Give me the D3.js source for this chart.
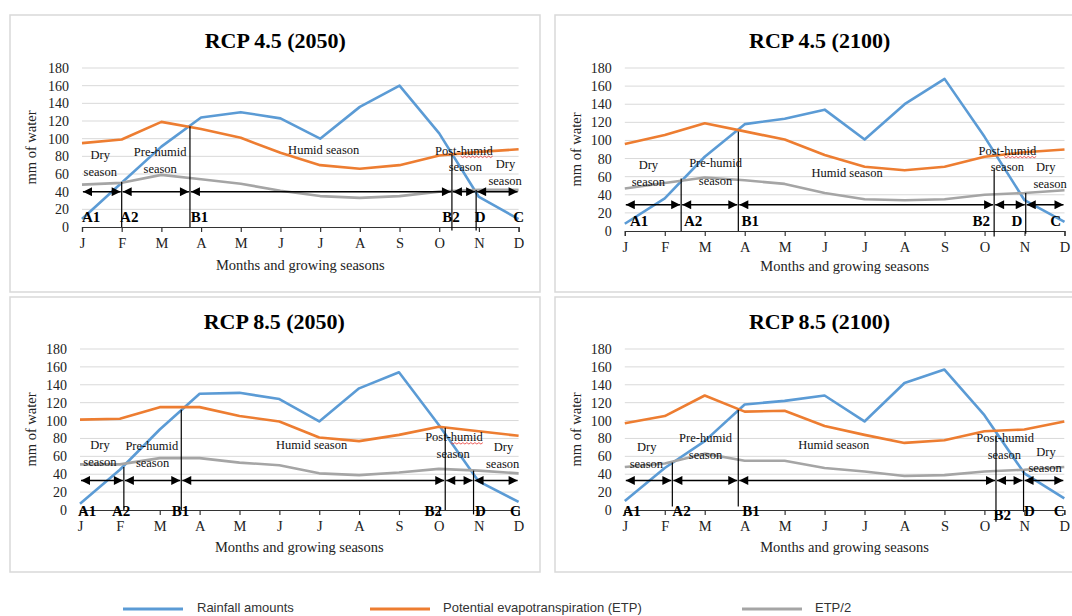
<!DOCTYPE html>
<html><head><meta charset="utf-8">
<script src="https://cdn.jsdelivr.net/npm/d3@7"></script>
<style>body{margin:0;background:#fff} svg{display:block}</style>
</head><body><svg id="c" width="1072" height="616"></svg>
<script>
// ---------- data ----------
const months = ["J","F","M","A","M","J","J","A","S","O","N","D"];
const yTicks = [0,20,40,60,80,100,120,140,160,180];
const seriesNames = ["Rainfall amounts","Potential evapotranspiration (ETP)","ETP/2"];
const panelTitles = ["RCP 4.5 (2050)","RCP 4.5 (2100)","RCP 8.5 (2050)","RCP 8.5 (2100)"];

const rain45_2050 = [9,50,91,124,130,123,100,136,160,106,34,9];
const etp45_2050  = [95,99,119,111,101,84,70,66,70,81,85,88];
const half45_2050 = [48,50,59,54,49,41,35,33,35,40,42,42];

const rain45_2100 = [8,36,82,118,124,134,101,140,168,104,34,10];
const etp45_2100  = [96,106,119,110,101,84,71,67,71,82,87,90];
const half45_2100 = [47,53,59,56,52,42,35,34,35,40,42,45];

const rain85_2050 = [7,45,90,130,131,124,99,136,154,95,32,9];
const etp85_2050  = [101,102,115,115,105,99,81,77,84,93,88,83];
const half85_2050 = [51,51,58,58,53,50,41,39,42,46,44,41];

const rain85_2100 = [10,47,77,118,122,128,99,142,157,106,41,13];
const etp85_2100  = [97,105,128,110,111,94,84,75,78,88,90,99];
const half85_2100 = [48,52,63,55,55,47,43,38,39,43,45,48];

// season boundaries (month index): A2, B1, B2, D
const bounds45_2050 = [1.0, 2.72, 9.32, 9.93];
const bounds45_2100 = [1.41, 2.84, 9.24, 10.03];
const bounds85_2050 = [1.10, 2.54, 9.16, 9.87];
const bounds85_2100 = [1.19, 2.84, 9.29, 9.98];
// top / bottom of each boundary line (mm)
const boundTops45_2050 = [51, 114, 82, 42];
const boundTops45_2100 = [58, 110, 68, 42];
const boundTops85_2050 = [48, 112, 92, 44];
const boundTops85_2100 = [53, 112, 82, 44];
const boundBots45_2050 = [0, 0, -4, -4];
const boundBots45_2100 = [0, 0, -6, -3];
const boundBots85_2050 = [0, 0, 0, -5];
const boundBots85_2100 = [4, 4, -13, -2];
// level of the season arrows (mm)
const arrowLevels = [40, 29, 33, 33];

// stage letters and their month positions
const stageLabels = ["A1","A2","B1","B2","D","C"];
const stageX45_2050 = [0.23, 1.19, 2.96, 9.30, 10.03, 11.0];
const stageX45_2100 = [0.36, 1.71, 3.14, 8.92, 9.81, 10.78];
const stageX85_2050 = [0.18, 1.03, 2.52, 8.86, 10.04, 10.92];
const stageX85_2100 = [0.17, 1.42, 3.16, 9.45, 10.13, 10.87];

// season captions with [month, mm] anchors
const seasonTexts = ["Dry","season","Pre-humid","season","Humid season","Post-humid","season","Dry","season"];
const seasonPos45_2050 = [[0.46,82],[0.46,63],[1.97,85],[1.97,66],[6.09,87.5],[9.62,87],[9.66,68],[10.67,72],[10.66,53]];
const seasonPos45_2100 = [[0.59,73],[0.59,55],[2.27,76],[2.27,56],[5.56,64],[9.57,89],[9.57,71],[10.53,71],[10.64,52]];
const seasonPos85_2050 = [[0.5,73],[0.5,54],[1.8,72],[1.82,53],[5.81,73],[9.38,82],[9.36,63],[10.62,71],[10.6,52]];
const seasonPos85_2100 = [[0.55,71],[0.54,52],[2.02,81],[2.02,62],[5.23,73],[9.52,81],[9.5,62],[10.54,65],[10.52,47]];

const colors = ["#5b9bd5","#ed7d31","#a5a5a5"];

// ---------- layout ----------
const panels = [
  {title:panelTitles[0], rain:rain45_2050, etp:etp45_2050, half:half45_2050, bounds:bounds45_2050, tops:boundTops45_2050, bots:boundBots45_2050, arrow:arrowLevels[0], stageX:stageX45_2050, seasonPos:seasonPos45_2050, spell:true,
   box:[10,15,540,292], x0:82, x1:518.6, y0:227, y180:68, titleY:48, xTitleY:270, labOff:-5, b2Off:0},
  {title:panelTitles[1], rain:rain45_2100, etp:etp45_2100, half:half45_2100, bounds:bounds45_2100, tops:boundTops45_2100, bots:boundBots45_2100, arrow:arrowLevels[1], stageX:stageX45_2100, seasonPos:seasonPos45_2100, spell:true,
   box:[555,15,1080,292], x0:624.8, x1:1064.5, y0:231, y180:68, titleY:48, xTitleY:271, labOff:-5, b2Off:0},
  {title:panelTitles[2], rain:rain85_2050, etp:etp85_2050, half:half85_2050, bounds:bounds85_2050, tops:boundTops85_2050, bots:boundBots85_2050, arrow:arrowLevels[2], stageX:stageX85_2050, seasonPos:seasonPos85_2050, spell:true,
   box:[10,297,540,572], x0:80, x1:518.6, y0:510, y180:349, titleY:329, xTitleY:552, labOff:6, b2Off:0},
  {title:panelTitles[3], rain:rain85_2100, etp:etp85_2100, half:half85_2100, bounds:bounds85_2100, tops:boundTops85_2100, bots:boundBots85_2100, arrow:arrowLevels[3], stageX:stageX85_2100, seasonPos:seasonPos85_2100, spell:false,
   box:[555,297,1080,572], x0:624.8, x1:1064.3, y0:510, y180:349, titleY:329, xTitleY:552, labOff:6, b2Off:4}
];

const serif = "'Liberation Serif','Times New Roman',serif";
const svg = d3.select("#c");
svg.append("rect").attr("width",1072).attr("height",616).attr("fill","#fff");

const defs = svg.append("defs");
defs.append("marker").attr("id","ah").attr("viewBox","0 0 10 10")
  .attr("refX",10).attr("refY",5).attr("markerWidth",10).attr("markerHeight",9)
  .attr("markerUnits","userSpaceOnUse").attr("orient","auto-start-reverse")
  .append("path").attr("d","M0,0L10,5L0,10z").attr("fill","#000");

panels.forEach(p => {
  const g = svg.append("g");
  const [bx0,by0,bx1,by1] = p.box;
  g.append("rect").attr("x",bx0).attr("y",by0).attr("width",bx1-bx0).attr("height",by1-by0)
    .attr("fill","#fff").attr("stroke","#d9d9d9").attr("stroke-width",1.5);

  const x = d3.scaleLinear().domain([0,11]).range([p.x0,p.x1]);
  const y = d3.scaleLinear().domain([0,180]).range([p.y0,p.y180]);

  // title
  g.append("text").attr("x",(p.x0+p.x1)/2 - 25).attr("y",p.titleY).attr("text-anchor","middle")
    .attr("font-family",serif).attr("font-weight","bold").attr("font-size",22).attr("fill","#000").text(p.title);

  // gridlines
  g.selectAll("line.grid").data(yTicks.filter(t=>t>0)).join("line")
    .attr("x1",p.x0).attr("x2",p.x1).attr("y1",d=>y(d)).attr("y2",d=>y(d))
    .attr("stroke","#d9d9d9").attr("stroke-width",1);

  // y axis labels
  const ya = g.append("g").attr("transform",`translate(${p.x0},0)`)
    .call(d3.axisLeft(y).tickValues(yTicks).tickSize(0).tickPadding(13));
  ya.select(".domain").remove();
  ya.selectAll("text").attr("font-family",serif).attr("font-size",14).attr("fill","#222");

  // x axis
  const xa = g.append("g").attr("transform",`translate(0,${p.y0})`)
    .call(d3.axisBottom(x).tickValues(d3.range(12)).tickFormat(i=>months[i]).tickSize(5).tickPadding(6));
  xa.select(".domain").attr("stroke","#333").attr("stroke-width",1.2);
  xa.selectAll(".tick line").attr("stroke","#333").attr("stroke-width",1.2);
  xa.selectAll("text").attr("font-family",serif).attr("font-size",14.5).attr("fill","#222");

  // axis titles
  g.append("text").attr("x",(p.x0+p.x1)/2).attr("y",p.xTitleY).attr("text-anchor","middle")
    .attr("font-family",serif).attr("font-size",14.5).attr("fill","#222").text("Months and growing seasons");
  const yc = (p.y0+p.y180)/2;
  g.append("text").attr("transform",`translate(${p.box[0]+26},${yc}) rotate(-90)`).attr("text-anchor","middle")
    .attr("font-family",serif).attr("font-size",14.5).attr("fill","#222").text("mm of water");

  // series
  const line = d3.line().x((d,i)=>x(i)).y(d=>y(d));
  [p.rain,p.etp,p.half].forEach((s,k)=>{
    g.append("path").datum(s).attr("d",line).attr("fill","none")
      .attr("stroke",colors[k]).attr("stroke-width",2.6).attr("stroke-linejoin","round");
  });

  // boundary lines
  p.bounds.forEach((b,i)=>{
    g.append("line").attr("x1",x(b)).attr("x2",x(b)).attr("y1",y(p.bots[i])).attr("y2",y(p.tops[i]))
      .attr("stroke","#000").attr("stroke-width",1.2);
  });
  // arrows
  const edges = [0, ...p.bounds, 11];
  for (let i=0;i<edges.length-1;i++){
    g.append("line").attr("x1",x(edges[i])+1).attr("x2",x(edges[i+1])-1)
      .attr("y1",y(p.arrow)).attr("y2",y(p.arrow))
      .attr("stroke","#000").attr("stroke-width",1.5)
      .attr("marker-start","url(#ah)").attr("marker-end","url(#ah)");
  }

  // stage labels
  stageLabels.forEach((l,i)=>{
    g.append("text").attr("x",x(p.stageX[i])).attr("y",p.y0+p.labOff+(l==="B2"?p.b2Off:0))
      .attr("text-anchor","middle").attr("font-family",serif).attr("font-weight","bold")
      .attr("font-size",15).attr("fill","#000").text(l);
  });

  // season captions
  seasonTexts.forEach((t,i)=>{
    const [mx,my] = p.seasonPos[i];
    const te = g.append("text").attr("x",x(mx)).attr("y",y(my)).attr("dy","0.35em")
      .attr("text-anchor","middle").attr("font-family",serif).attr("font-size",12.5)
      .attr("fill","#111").text(t);
    if (t==="Post-humid" && p.spell){
      const node = te.node();
      const total = node.getComputedTextLength();
      const pre = node.getSubStringLength(0,5);
      const sx = x(mx) - total/2 + pre, ex = x(mx) + total/2;
      const by = y(my) + 6;
      let d = `M${sx},${by}`;
      for (let xx=sx, k=0; xx<ex; xx+=2, k++) d += `L${Math.min(xx+2,ex)},${by + (k%2?0:1.4)}`;
      g.append("path").attr("d",d).attr("fill","none").attr("stroke","#e8322f").attr("stroke-width",0.8);
    }
  });
});

// legend
const legendX = [123, 370, 742];
const legendTextX = [197, 443, 815];
const lg = svg.append("g");
seriesNames.forEach((n,i)=>{
  lg.append("line").attr("x1",legendX[i]).attr("x2",legendX[i]+60).attr("y1",609).attr("y2",609)
    .attr("stroke",colors[i]).attr("stroke-width",3);
  lg.append("text").attr("x",legendTextX[i]).attr("y",612).attr("font-family","'Liberation Sans',Arial,sans-serif")
    .attr("font-size",13).attr("fill","#333").text(n);
});
</script></body></html>
